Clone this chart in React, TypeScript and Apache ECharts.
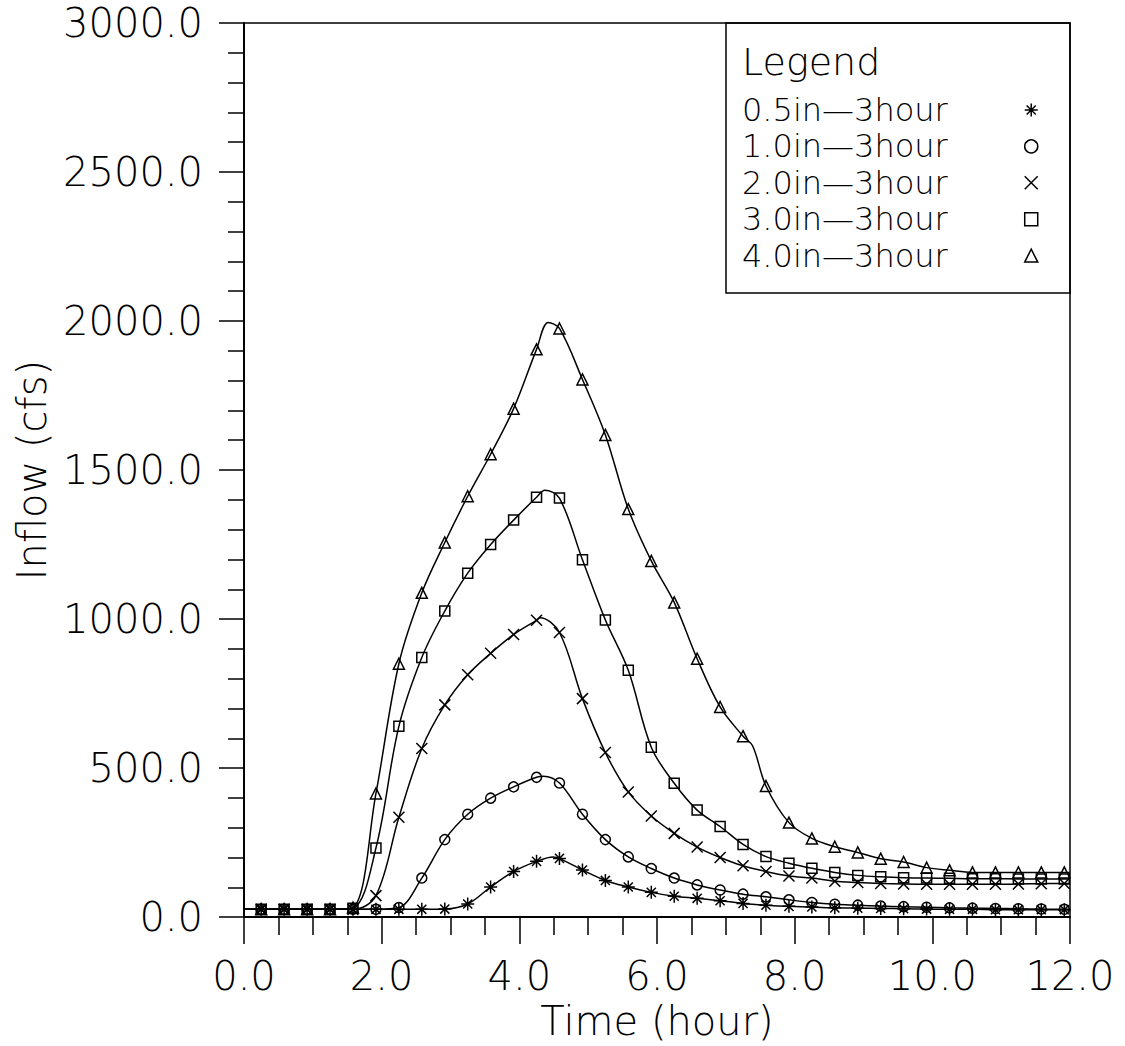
import React, { useEffect, useRef } from "react";
import * as echarts from "echarts";

// ---- data ----
const TIMES = [
  0.25, 0.583, 0.917, 1.25, 1.583, 1.917, 2.25, 2.583, 2.917, 3.25, 3.583, 3.917,
  4.25, 4.583, 4.917, 5.25, 5.583, 5.917, 6.25, 6.583, 6.917, 7.25, 7.583, 7.917,
  8.25, 8.583, 8.917, 9.25, 9.583, 9.917, 10.25, 10.583, 10.917, 11.25, 11.583, 11.917,
];

const SERIES_NAMES = ["0.5in—3hour", "1.0in—3hour", "2.0in—3hour", "3.0in—3hour", "4.0in—3hour"];

const IN05 = [
  26, 26, 26, 26, 26, 26, 26, 26, 27, 44, 101, 153, 187, 197, 158, 123, 101, 83,
  70, 63, 55, 46, 40, 36, 34, 31, 30, 29, 28, 27, 26, 26, 25, 25, 25, 25,
];
const IN10 = [
  26, 26, 26, 26, 26, 26, 32, 131, 260, 345, 399, 437, 469, 450, 345, 260, 202, 163,
  131, 108, 91, 77, 68, 58, 49, 43, 40, 37, 35, 33, 31, 30, 29, 28, 27, 26,
];
const IN20 = [
  26, 26, 26, 26, 26, 72, 335, 566, 712, 813, 885, 948, 996, 955, 733, 552, 420, 339,
  281, 235, 200, 172, 153, 138, 131, 120, 116, 113, 111, 110, 110, 110, 110, 111, 112, 113,
];
const IN30 = [
  26, 26, 26, 26, 30, 232, 640, 871, 1027, 1154, 1250, 1332, 1409, 1406, 1199, 997, 828, 570,
  449, 359, 304, 244, 203, 181, 164, 150, 140, 135, 132, 131, 130, 129, 129, 128, 128, 128,
];
const IN40 = [
  26, 26, 26, 26, 32, 415, 850, 1088, 1257, 1412, 1553, 1706, 1905, 1975, 1804, 1618, 1369, 1195,
  1056, 867, 705, 607, 440, 317, 264, 236, 217, 196, 185, 166, 157, 150, 150, 150, 150, 150,
];

// curve points between markers (no marker drawn): start, peaks, kinks, end
const IN05_CURVE: [number, number][] = [[0, 26], [4.49, 202], [12, 25]];
const IN10_CURVE: [number, number][] = [[0, 26], [4.35, 473], [12, 26]];
const IN20_CURVE: [number, number][] = [[0, 26], [4.3, 1004], [12, 113]];
const IN30_CURVE: [number, number][] = [[0, 26], [4.37, 1432], [12, 128]];
const IN40_CURVE: [number, number][] = [[0, 26], [4.42, 1995], [7.39, 574], [12, 150]];

const X_TICKS_MAX = 12;
const Y_TICKS_MAX = 3000;

const FONT = "'DejaVu Sans', sans-serif";

const SYM_ASTERISK = "path://M5,0L5,10M0,5L10,5M1.5,1.5L8.5,8.5M1.5,8.5L8.5,1.5";
const SYM_CIRCLE = "circle";
const SYM_X = "path://M0,0L10,10M0,10L10,0";
const SYM_SQUARE = "rect";
const SYM_TRIANGLE = "triangle";

function buildData(values: number[], curve: [number, number][]) {
  const pts: any[] = TIMES.map((t, i) => ({ value: [t, values[i]] }));
  curve.forEach(([t, v]) => pts.push({ value: [t, v], symbol: "none" }));
  pts.sort((a, b) => a.value[0] - b.value[0]);
  return pts;
}

export default function App() {
  const ref = useRef<HTMLDivElement>(null);
  useEffect(() => {
    if (!ref.current) return;
    const chart = echarts.init(ref.current, undefined, { renderer: "svg" });
    const symbols = [SYM_ASTERISK, SYM_CIRCLE, SYM_X, SYM_SQUARE, SYM_TRIANGLE];
    const sizes = [13, 10, 11, 10, 11];
    const vals = [IN05, IN10, IN20, IN30, IN40];
    const curves = [IN05_CURVE, IN10_CURVE, IN20_CURVE, IN30_CURVE, IN40_CURVE];
    const textBase = { fontFamily: FONT, fontSize: 40, fontWeight: 200 as any, color: "#000" };

    chart.setOption({
      animation: false,
      backgroundColor: "#fff",
      grid: {
        left: 244,
        right: 55,
        top: 23,
        bottom: 128,
        show: true,
        borderColor: "#000",
        borderWidth: 1.5,
        backgroundColor: "transparent",
      },
      xAxis: {
        type: "value",
        min: 0,
        max: X_TICKS_MAX,
        interval: 2,
        name: "Time (hour)",
        nameLocation: "middle",
        nameGap: 80,
        nameTextStyle: { ...textBase },
        axisLine: { show: true, lineStyle: { color: "#000", width: 2 } },
        axisTick: { show: true, inside: false, length: 27, lineStyle: { color: "#000", width: 1.5 } },
        minorTick: { show: true, splitNumber: 4, length: 18, lineStyle: { color: "#000", width: 1.5 } },
        splitLine: { show: false },
        axisLabel: { ...textBase, margin: 39, formatter: (v: number) => v.toFixed(1) },
      },
      yAxis: {
        type: "value",
        min: 0,
        max: Y_TICKS_MAX,
        interval: 500,
        name: "Inflow (cfs)",
        nameLocation: "middle",
        nameGap: 189,
        nameTextStyle: { ...textBase },
        axisLine: { show: true, lineStyle: { color: "#000", width: 2 } },
        axisTick: { show: true, inside: false, length: 25, lineStyle: { color: "#000", width: 1.5 } },
        minorTick: { show: true, splitNumber: 5, length: 16, lineStyle: { color: "#000", width: 1.5 } },
        splitLine: { show: false },
        axisLabel: { ...textBase, margin: 41, formatter: (v: number) => v.toFixed(1) },
      },
      legend: {
        orient: "vertical",
        left: 742,
        top: 94,
        padding: 0,
        itemGap: 4.4,
        align: "right",
        itemWidth: 13,
        itemHeight: 13,
        selectedMode: false,
        textStyle: { ...textBase, fontSize: 32, padding: [0, 72, 0, 0] },
        itemStyle: { color: "transparent", borderColor: "#000", borderWidth: 1.5 },
        data: SERIES_NAMES.map((n, i) => ({ name: n, icon: symbols[i] })),
      },
      graphic: [
        {
          type: "rect",
          shape: { x: 726, y: 23, width: 344, height: 270 },
          style: { fill: "none", stroke: "#000", lineWidth: 1.5 },
          z: 10,
        },
        {
          type: "text",
          x: 742,
          y: 62,
          style: {
            text: "Legend",
            font: `200 38px ${FONT}`,
            fill: "#000",
            verticalAlign: "middle",
          },
          z: 10,
        },
      ],
      series: SERIES_NAMES.map((name, i) => ({
        name,
        type: "line",
        data: buildData(vals[i], curves[i]),
        smooth: 0.35,
        symbol: symbols[i],
        symbolSize: sizes[i],
        showAllSymbol: true,
        lineStyle: { color: "#000", width: 1.5 },
        itemStyle: { color: "transparent", borderColor: "#000", borderWidth: 1.5 },
        emphasis: { disabled: true },
        z: 2,
      })),
    });
    return () => chart.dispose();
  }, []);
  return (
    <div
      ref={ref}
      style={{ position: "absolute", left: 0, top: 0, width: 1125, height: 1046, background: "#fff" }}
    />
  );
}
